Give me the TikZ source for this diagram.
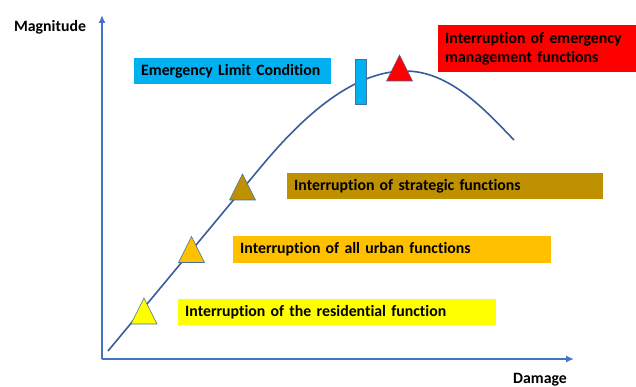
\documentclass[tikz,border=0pt]{standalone}
\usepackage{fontspec}
\setmainfont{Carlito}[Ligatures={NoCommon}]
\usetikzlibrary{arrows.meta}
\definecolor{axisblue}{HTML}{4472C4}
\definecolor{curveblue}{HTML}{3B5C9A}
\definecolor{cyanbox}{HTML}{00B0F0}
\definecolor{redbox}{HTML}{FF0000}
\definecolor{brownbox}{HTML}{BF9000}
\definecolor{orangebox}{HTML}{FFC000}
\definecolor{yellowbox}{HTML}{FFFF00}
\definecolor{triedge}{HTML}{41719C}
\tikzset{
  lbl/.style={font=\fontsize{15.8}{19}\selectfont\bfseries, text=black, inner sep=0pt},
  bar/.style={lbl, anchor=west, inner xsep=7pt, minimum height=26pt, text width=#1, align=left},
  axis/.style={draw=axisblue, line width=2.2pt, -{Latex[length=8pt,width=7pt]}},
  tri/.style={fill=#1, draw=triedge, line width=0.6pt, line join=miter},
}
\begin{document}
\begin{tikzpicture}[x=1pt,y=-1pt]
\useasboundingbox (0,0) rectangle (636,387);
% axes
\coordinate (O) at (102,359);
\coordinate (ytop) at (102,15);
\coordinate (xend) at (574,359);
\draw[axis] (O) -- (ytop);
\draw[axis] (O) -- (xend);
\node[lbl] (mag) at (50,27) {Magnitude};
\node[lbl, anchor=base] (dmg) at (540,383) {Damage};
% curve
\draw[curveblue, line width=1.6pt] (108,351) -- (260,168)
  .. controls (298,122) and (350,71) .. (405,71)
  .. controls (450,71) and (485,110) .. (514,140);
% boxes
\node[bar=183pt, fill=cyanbox, minimum height=26pt] (elc) at (134,71) {Emergency Limit Condition};
\node[lbl, fill=redbox, anchor=north west, inner xsep=7pt, inner ysep=5pt, text width=184pt, align=left, minimum height=47pt] (red) at (438,25) {Interruption of emergency\\management functions};
\node[bar=302pt, fill=brownbox] (strat) at (287,186) {Interruption of strategic functions};
\node[bar=304pt, fill=orangebox, minimum height=27pt] (urban) at (233,249.5) {Interruption of all urban functions};
\node[bar=304pt, fill=yellowbox] (resid) at (178,312) {Interruption of the residential function};
% markers
\draw[fill=cyanbox, draw=triedge, line width=0.6pt] (355,59) rectangle (366,104);
\coordinate (t1) at (144,311);
\coordinate (t2) at (191.5,249.5);
\coordinate (t3) at (242.5,187);
\coordinate (t4) at (399.5,68);
\path[tri=yellowbox] (t1) ++(-13,13) -- ++(13,-26) -- ++(13,26) -- cycle;
\path[tri=orangebox] (t2) ++(-13,13) -- ++(13,-26) -- ++(13,26) -- cycle;
\path[tri=brownbox] (t3) ++(-13,13) -- ++(13,-26) -- ++(13,26) -- cycle;
\path[tri=redbox] (t4) ++(-13,13) -- ++(13,-26) -- ++(13,26) -- cycle;
\end{tikzpicture}
\end{document}
